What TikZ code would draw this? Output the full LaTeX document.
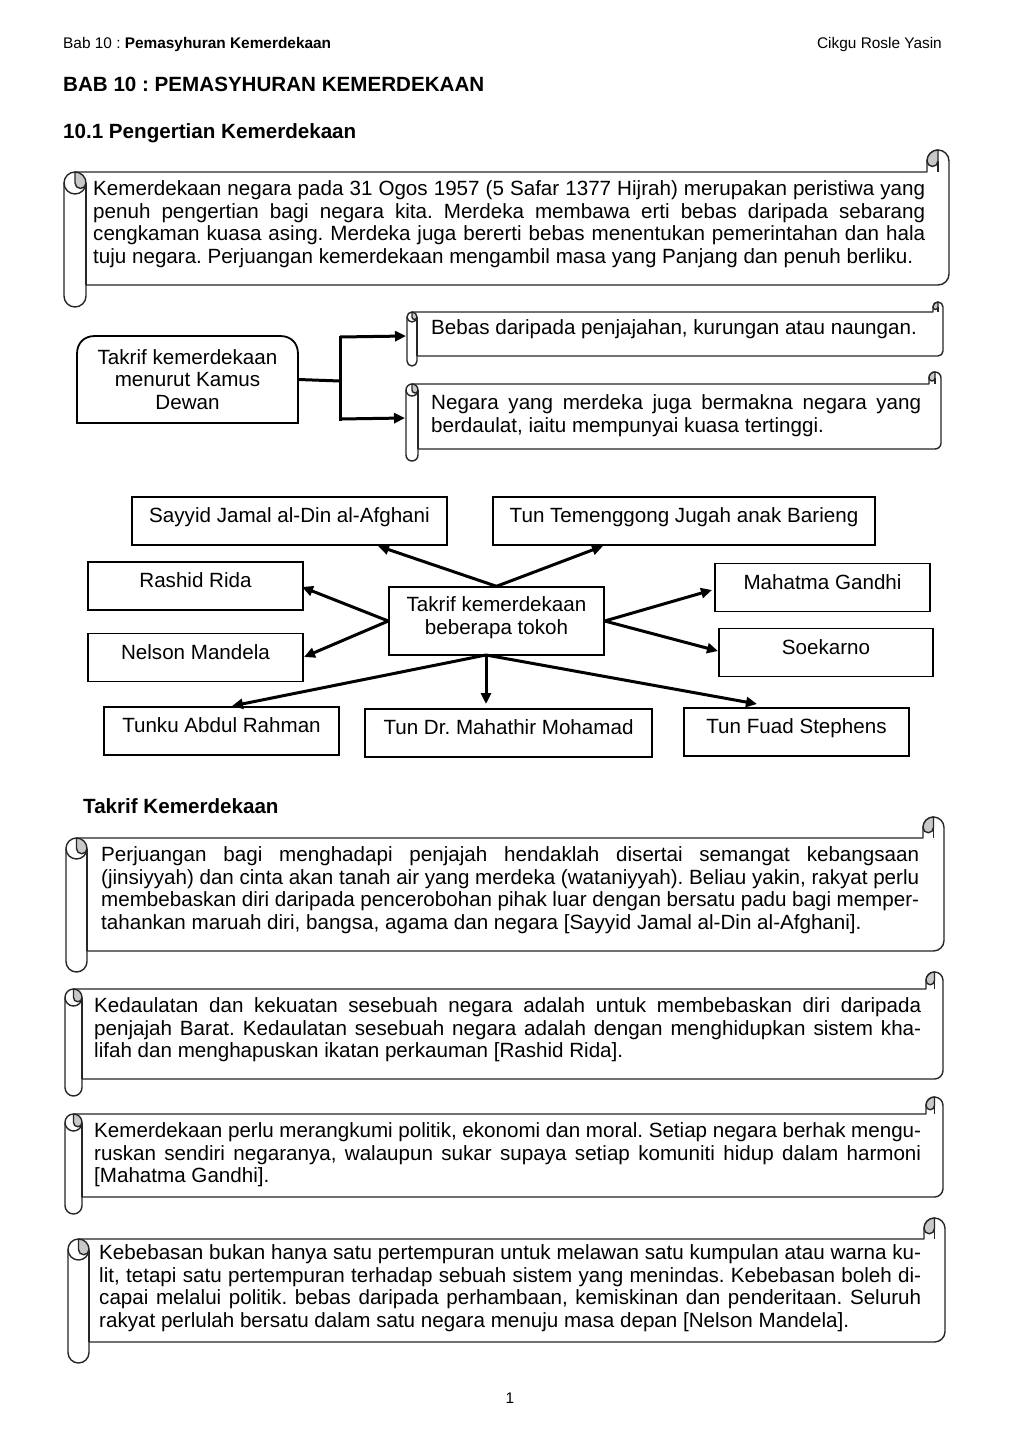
\documentclass[tikz,border=0pt]{standalone}
\usepackage{fontspec}
\setmainfont{Liberation Sans}
\usetikzlibrary{arrows.meta}
\definecolor{curlgray}{RGB}{200,200,200}
\frenchspacing
\hyphenpenalty=10000
\exhyphenpenalty=50
\tolerance=10000
\newcommand\bodyfont{\fontsize{20.6pt}{22.6pt}\selectfont}
\newcommand\smallfont{\fontsize{15.4pt}{18pt}\selectfont}
\newcommand\headfont{\fontsize{20.6pt}{24pt}\selectfont\bfseries}
% scroll shape: #1 left, #2 top (curl), #3 right, #4 bottom (tube), #5 curl size
\newcommand\scrollbox[5]{%
 \pgfmathsetmacro\skL{#1}\pgfmathsetmacro\skT{#2}\pgfmathsetmacro\skR{#3}\pgfmathsetmacro\skB{#4}\pgfmathsetmacro\skc{#5}%
 \pgfmathsetmacro\skh{\skc/2}\pgfmathsetmacro\skq{\skc/4}%
 \pgfmathsetmacro\skxa{\skL+\skh}\pgfmathsetmacro\skxb{\skL+\skc}%
 \pgfmathsetmacro\skxc{\skR-\skc}\pgfmathsetmacro\skxd{\skR-\skh}%
 \pgfmathsetmacro\skya{\skT+\skh}\pgfmathsetmacro\skyb{\skT+\skc}%
 \pgfmathsetmacro\skyc{\skT+\skc+\skh}%
 \pgfmathsetmacro\skye{\skB-\skc-\skh}\pgfmathsetmacro\skyf{\skB-\skc}\pgfmathsetmacro\skyg{\skB-\skh}%
 \filldraw[scrollline,fill=white] (\skL,\skyc) arc[start angle=180,end angle=270,radius=\skh] -- (\skxc,\skyb) -- (\skxc,\skya)
   arc[start angle=180,end angle=360,radius=\skh] -- (\skR,\skye) arc[start angle=0,end angle=90,radius=\skh]
   -- (\skxb,\skyf) -- (\skxb,\skyg) arc[start angle=0,end angle=180,radius=\skh] -- cycle;
 \draw[scrollline] (\skxb,\skyc) -- (\skxb,\skyf);
 \draw[scrollline] (\skxb,\skyc) arc[start angle=0,end angle=180,radius=\skh];
 \draw[scrollline] (\skxd,\skya) -- (\skxd,\skyb);
 \filldraw[scrollline,fill=curlgray] (\skxd,\skT) arc[start angle=270,end angle=180,radius=\skh] arc[start angle=180,end angle=0,radius=\skq] -- cycle;
 \filldraw[scrollline,fill=curlgray] (\skxa,\skyb) arc[start angle=270,end angle=360,radius=\skh] arc[start angle=0,end angle=180,radius=\skq] -- cycle;
}
\tikzset{
 scrollline/.style={line width=1.4pt, draw=black!85, line join=round},
 para/.style={anchor=north west, inner sep=0pt, align=justify, font=\bodyfont},
 pbox/.style={draw, line width=1.4pt, inner xsep=0pt, inner ysep=0pt, text height=25.5pt, text depth=22.5pt, minimum width=#1, font=\bodyfont},
 conn/.style={line width=3pt},
 arr/.style={line width=3pt, -{Triangle[length=11pt,width=10pt]}},
 lbl/.style={inner sep=0pt}
}
\begin{document}
\begin{tikzpicture}[x=1pt,y=1pt]
\begin{scope}[yscale=-1]
\fill[white] (0,0) rectangle (1020,1442);
\useasboundingbox (0,0) rectangle (1020,1442);

% header
\node[lbl, anchor=base west, font=\smallfont] (hdrL) at (63,48.5) {Bab 10 : \textbf{Pemasyhuran Kemerdekaan}};
\node[lbl, anchor=base east, font=\smallfont] (hdrR) at (942,48.5) {Cikgu Rosle Yasin};
\node[lbl, anchor=base west, font=\headfont] (title) at (63,91.5) {BAB 10 : PEMASYHURAN KEMERDEKAAN};
\node[lbl, anchor=base west, font=\headfont] (sec) at (63,138.5) {10.1 Pengertian Kemerdekaan};

% scroll 1
\scrollbox{64}{150}{949}{307}{22}
\node[para, text width=832pt] (p1) at (93,179.5) {\strut Kemerdekaan negara pada 31 Ogos 1957 (5 Safar 1377 Hijrah) merupakan peristiwa yang\linebreak penuh pengertian bagi negara kita. Merdeka membawa erti bebas daripada sebarang\linebreak cengkaman kuasa asing. Merdeka juga bererti bebas menentukan pemerintahan dan hala\linebreak tuju negara. Perjuangan kemerdekaan mengambil masa yang Panjang dan penuh berliku.};

% Kamus Dewan
\node[lbl, minimum width=221pt, minimum height=87pt, align=center, font=\bodyfont] (kamus) at (187.5,379.5) {Takrif kemerdekaan\\menurut Kamus\\Dewan};
\draw[line width=1.8pt, line join=miter] (77,423) -- (77,354) .. controls (77,343) and (84,336) .. (95,336) -- (280,336) .. controls (291,336) and (298,343) .. (298,354) -- (298,423) -- cycle;

\scrollbox{407}{302}{943}{366}{10}
\node[para, text width=490pt] (bebas) at (431,318.5) {\strut Bebas daripada penjajahan, kurungan atau naungan.};
\scrollbox{406}{372}{941}{461}{12}
\node[para, text width=490pt] (negara) at (431,393.5) {\strut Negara yang merdeka juga bermakna negara yang\linebreak berdaulat, iaitu mempunyai kuasa tertinggi.};

\coordinate (kj) at (340,381);
\coordinate (kt) at (340,337);
\coordinate (kb) at (340,419);
\coordinate (bebasL) at (406,336);
\coordinate (negaraL) at (405,418);
\draw[conn] (kamus.east) -- (kj);
\draw[conn, line cap=rect] (kt) -- (kb);
\draw[arr] (kt) -- (bebasL);
\draw[arr] (kb) -- (negaraL);

% mind map
\node[pbox=215pt, align=center, text height=47.4pt, text depth=20.6pt] (ctr) at (496.5,621) {Takrif kemerdekaan\\beberapa tokoh};
\node[pbox=315pt] (sayyid) at (289.5,521) {Sayyid Jamal al-Din al-Afghani};
\node[pbox=382pt] (temeng) at (684,521) {Tun Temenggong Jugah anak Barieng};
\node[pbox=215pt] (rashid) at (195.5,586) {Rashid Rida};
\node[pbox=215pt] (nelson) at (195.5,657.5) {Nelson Mandela};
\node[pbox=215pt] (gandhi) at (822.5,587.5) {Mahatma Gandhi};
\node[pbox=214pt] (soekarno) at (826,652.5) {Soekarno};
\node[pbox=235pt] (tunku) at (221.5,731) {Tunku Abdul Rahman};
\node[pbox=287pt] (mahathir) at (508.5,733) {Tun Dr. Mahathir Mohamad};
\node[pbox=225pt] (fuad) at (796.5,732) {Tun Fuad Stephens};

\coordinate (cB) at (486,655);
\coordinate (eSay) at (378,546);
\coordinate (eTem) at (603,546);
\coordinate (eRas) at (302,587);
\coordinate (eNel) at (304,657);
\coordinate (eGan) at (712,590);
\coordinate (eSoe) at (718,651);
\coordinate (eTun) at (232,706);
\coordinate (eMah) at (486,704);
\coordinate (eFua) at (757,704);
\draw[arr] (ctr.north) -- (eSay);
\draw[arr] (ctr.north) -- (eTem);
\draw[arr] (ctr.west) -- (eRas);
\draw[arr] (ctr.west) -- (eNel);
\draw[arr] (ctr.east) -- (eGan);
\draw[arr] (ctr.east) -- (eSoe);
\draw[arr] (cB) -- (eTun);
\draw[arr] (cB) -- (eMah);
\draw[arr] (cB) -- (eFua);

% Takrif Kemerdekaan
\node[lbl, anchor=base west, font=\headfont] (sec2) at (83,813.5) {Takrif Kemerdekaan};

\scrollbox{66}{817}{944}{972}{21}
\node[para, text width=818pt] (p2) at (101,845.5) {\strut Perjuangan bagi menghadapi penjajah hendaklah disertai semangat kebangsaan\linebreak (jinsiyyah) dan cinta akan tanah air yang merdeka (wataniyyah). Beliau yakin, rakyat perlu\linebreak membebaskan diri daripada pencerobohan pihak luar dengan bersatu padu bagi memper-\linebreak tahankan maruah diri, bangsa, agama dan negara {[}Sayyid Jamal al-Din al-Afghani].};

\scrollbox{65}{972}{943}{1096}{17}
\node[para, text width=827pt] (p3) at (94,996.5) {\strut Kedaulatan dan kekuatan sesebuah negara adalah untuk membebaskan diri daripada\linebreak penjajah Barat. Kedaulatan sesebuah negara adalah dengan menghidupkan sistem kha-\linebreak lifah dan menghapuskan ikatan perkauman {[}Rashid Rida].};

\scrollbox{65}{1097}{943}{1214}{17}
\node[para, text width=827pt] (p4) at (94,1121.5) {\strut Kemerdekaan perlu merangkumi politik, ekonomi dan moral. Setiap negara berhak mengu-\linebreak ruskan sendiri negaranya, walaupun sukar supaya setiap komuniti hidup dalam harmoni\linebreak{}{[}Mahatma Gandhi].};

\scrollbox{68}{1218}{945}{1363}{21}
\node[para, text width=822pt] (p5) at (99,1243.5) {\strut Kebebasan bukan hanya satu pertempuran untuk melawan satu kumpulan atau warna ku-\linebreak lit, tetapi satu pertempuran terhadap sebuah sistem yang menindas. Kebebasan boleh di-\linebreak capai melalui politik. bebas daripada perhambaan, kemiskinan dan penderitaan. Seluruh\linebreak rakyat perlulah bersatu dalam satu negara menuju masa depan {[}Nelson Mandela].};

\node[lbl, anchor=base, font=\smallfont] (pg) at (510,1403) {1};
\end{scope}
\end{tikzpicture}
\end{document}
